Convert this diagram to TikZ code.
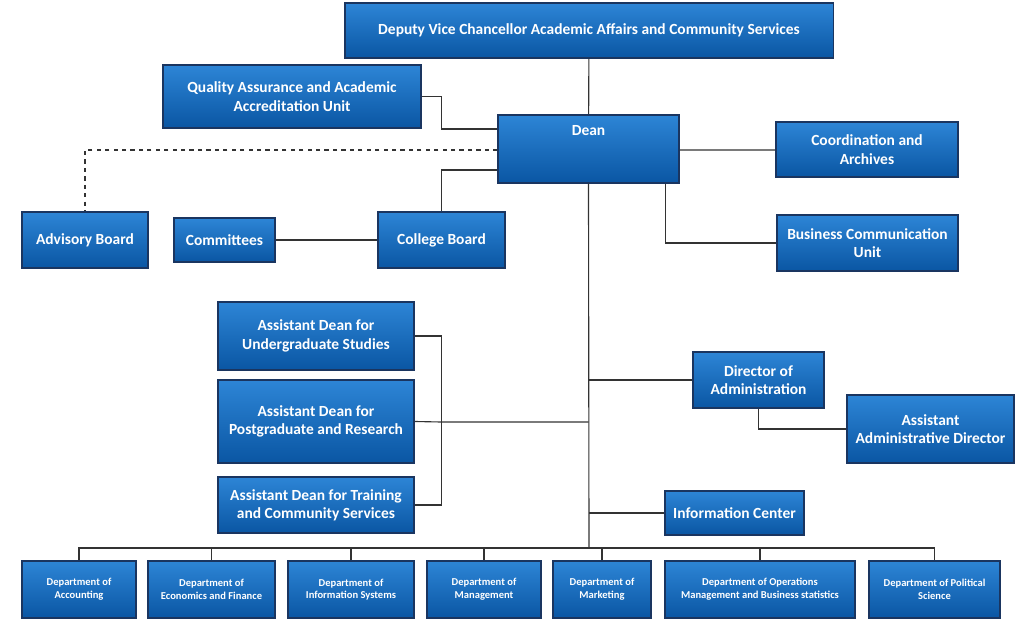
\documentclass[tikz,border=0pt]{standalone}
\usepackage{fontspec}
\setmainfont{Carlito}
\usetikzlibrary{shadows,calc}
\definecolor{boxtop}{HTML}{2D85D6}
\definecolor{boxbot}{HTML}{0A56A3}
\definecolor{boxline}{HTML}{1A3560}
\tikzset{
    box/.style={draw=boxline, thick, top color=boxtop, bottom color=boxbot, text=white,
        align=center, inner sep=1pt, font=\fontsize{11}{13}\selectfont\bfseries,
        drop shadow={shadow xshift=0.6pt, shadow yshift=-0.6pt, opacity=0.4}},
    dept/.style={box, minimum height=1.425cm, font=\fontsize{7.5}{9}\selectfont\bfseries},
    link/.style={draw=black!80, thick}
}
\begin{document}
\begin{tikzpicture}[x=0.025cm, y=-0.025cm]
    \useasboundingbox (0,0) rectangle (1034,642);
    % top levels
    \node[box, minimum width=12.2cm, minimum height=1.375cm] (dvc) at (589,30.5) {Deputy Vice Chancellor Academic Affairs and Community Services};
    \node[box, minimum width=6.45cm, minimum height=1.575cm] (qa) at (292,96.5) {Quality Assurance and Academic\\Accreditation Unit};
    \node[box, minimum width=4.525cm, minimum height=1.7cm, text depth=0.95cm] (dean) at (588.5,149) {Dean};
    \node[box, minimum width=4.55cm, minimum height=1.375cm] (coord) at (867,149.5) {Coordination and\\Archives};
    \node[box, minimum width=3.15cm, minimum height=1.4cm] (advisory) at (85,240) {Advisory Board};
    \node[box, minimum width=2.525cm, minimum height=1.1cm] (committees) at (224.5,240) {Committees};
    \node[box, minimum width=3.175cm, minimum height=1.4cm] (board) at (441.5,240) {College Board};
    \node[box, minimum width=4.525cm, minimum height=1.4cm] (buscomm) at (867.5,243) {Business Communication\\Unit};
    % assistant deans
    \node[box, minimum width=4.9cm, minimum height=1.7cm] (adu) at (316,336) {Assistant Dean for\\Undergraduate Studies};
    \node[box, minimum width=4.9cm, minimum height=2.075cm] (adp) at (316,421.5) {Assistant Dean for\\Postgraduate and Research};
    \node[box, minimum width=4.9cm, minimum height=1.4cm] (adt) at (316,505) {Assistant Dean for Training\\and Community Services};
    \node[box, minimum width=3.275cm, minimum height=1.4cm] (director) at (758.5,380) {Director of\\Administration};
    \node[box, minimum width=4.175cm, minimum height=1.7cm] (aad) at (930.5,429) {Assistant\\Administrative Director};
    \node[box, minimum width=3.475cm, minimum height=1.1cm] (info) at (734.5,513) {Information Center};
    % departments
    \node[dept, minimum width=2.85cm] (acc) at (79,589.5) {Department of\\Accounting};
    \node[dept, minimum width=3.175cm] (econ) at (211.5,589.5) {Department of\\Economics and Finance};
    \node[dept, minimum width=3.15cm] (infosys) at (351,589.5) {Department of\\Information Systems};
    \node[dept, minimum width=2.85cm] (mgmt) at (484,589.5) {Department of\\Management};
    \node[dept, minimum width=2.45cm] (mkt) at (602,589.5) {Department of\\Marketing};
    \node[dept, minimum width=4.75cm] (ops) at (760,589.5) {Department of Operations\\Management and  Business statistics};
    \node[dept, minimum width=3.275cm] (pol) at (934.5,589.5) {Department of Political\\Science};
    % connectors
    \coordinate (bus) at (589,548);
    \coordinate (adbus) at (441,422);
    \draw[link] (dvc) -- (dean);
    \draw[link] (qa.east) -- ++(20,0) |- ($(dean.west)+(0,-20)$);
    \draw[link, dashed] ($(dean.west)+(0,1)$) -| (advisory.north);
    \draw[link] (board.north) |- ($(dean.west)+(0,21)$);
    \draw[link] (committees) -- (board);
    \draw[link] ($(dean.east)+(0,1)$) -- ($(coord.west)+(0,0.5)$);
    \draw[link] ($(dean.south east)+(-14,0)$) |- (buscomm.west);
    \draw[link] (dean.south) -- (bus);
    \draw[link] (director.west) -- (director.west -| dean.south);
    \draw[link] (director.south) |- (aad.west);
    \draw[link] (info.west) -- (info.west -| dean.south);
    \draw[link] (adu.east) -- ++(27,0) |- (adt.east);
    \draw[link] (adp.east) -- (adbus) -- (adbus -| dean.south);
    \draw[link] (acc.north) |- (bus) -| (pol.north);
    \foreach \d in {econ,infosys,mgmt,mkt,ops}
        \draw[link] (\d.north) -- (\d.north |- bus);
\end{tikzpicture}
\end{document}
